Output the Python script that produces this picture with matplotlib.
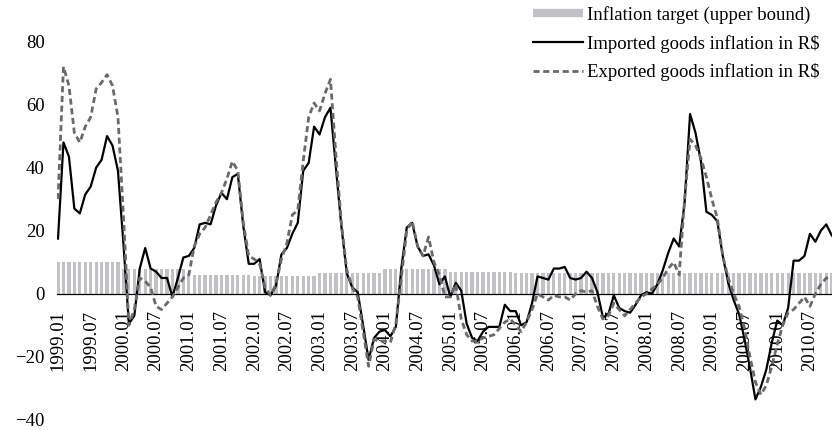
import matplotlib
matplotlib.use('Agg')
import matplotlib.pyplot as plt
from matplotlib.lines import Line2D

plt.rcParams['font.family'] = ['Liberation Serif', 'DejaVu Serif']

# monthly observations, 1999.01 .. 2010.11
years = list(range(1999, 2011))
months = [f'{y}.{m:02d}' for y in years for m in range(1, 13)][:143]

imported = [17.5, 48, 43.5, 27, 25.5, 31.5, 34, 40, 42.5, 50, 47, 39,
            16, -9.5, -7, 8, 14.5, 8, 7, 5, 5, -1, 5, 11.5,
            12, 14.5, 22, 22.5, 22, 28, 32, 30, 37, 38, 21.5, 9.5,
            9.5, 11, 0.5, -0.5, 2.5, 12.5, 14.5, 19, 22.5, 39, 41.5, 53,
            50.5, 56, 59, 40, 21.5, 6.5, 2, 0.5, -10, -21, -14, -12,
            -11.5, -13.5, -10.5, 8, 21, 22.5, 15, 12, 12.5, 9, 3, 5.5,
            -1, 3.5, 1, -9.5, -14, -15, -12, -10.5, -10.5, -10.5, -3.5, -5.5,
            -5.5, -10, -9, -3, 5.5, 5, 4.5, 8, 8, 8.5, 5, 4.5,
            5, 7, 5, 0.5, -7.5, -6.5, -0.5, -4.5, -5.5, -6, -3.5, -0.5,
            0.5, 0, 3, 7.5, 13, 17.5, 15, 29, 57, 51, 42, 26,
            25, 23, 12, 3.5, -2, -6.5, -14.5, -23.5, -33.5, -29.5, -24, -15.5,
            -8.5, -10, -4.5, 10.5, 10.5, 12, 19, 16.5, 20, 22, 18.5]

exported = [30, 72, 66, 51, 48, 53, 56, 65, 67, 69.5, 66, 56,
            25, -10, -5, 5, 4, 2, -4, -5, -3, -1, 2, 5,
            6, 15, 19, 21, 25, 29, 32, 36.5, 42, 39, 22.5, 12,
            11, 9.5, 2, -0.5, 3, 11, 16, 25, 26.5, 42, 56, 60.5,
            58, 63.5, 68, 44, 22.5, 7.5, 2, -1, -12, -23, -14.5, -15,
            -15, -15.5, -9.5, 5, 20, 23, 15, 12, 18, 10, 6, -1,
            -1, 3, -8, -13, -15, -15, -14, -13.5, -13, -11, -9, -8,
            -10, -12, -9, -5, 0, -1, -2, -0.5, -1, -1, -2, 0,
            1, 0.5, 1, -4, -8, -7, -3, -5, -7, -5, -3, -1,
            0, 1.5, 3, 5, 8, 10, 6, 30, 49, 47, 43, 37,
            30, 24, 12, 5, 0, -4, -11, -20, -28, -32, -29, -23,
            -16, -10, -6, -5, -3, -1, -4, 0, 3, 5, 5]

# upper bound of the inflation target, one value per year
target_by_year = [10, 8, 6, 5.5, 6.5, 8, 7, 6.5, 6.5, 6.5, 6.5, 6.5]
target = [target_by_year[k // 12] for k in range(len(months))]

BAR_COLOR = '#c2c2c6'
DASH_COLOR = '#6a6a6a'


def plot_inflation():
    fig = plt.figure(figsize=(8.32, 4.30), dpi=100)
    ax = fig.add_axes([0.0681, 0.0235, 0.9319, 0.8800])
    x = list(range(len(months)))

    ax.bar(x, target, width=0.6, color=BAR_COLOR, zorder=1)
    ax.plot(x, imported, color='black', lw=1.6, zorder=3)
    ax.plot(x, exported, color=DASH_COLOR, lw=2.0, dashes=(2.2, 1.3), zorder=4)

    # zero line doubles as the category axis
    for side in ['top', 'right', 'left']:
        ax.spines[side].set_visible(False)
    ax.spines['bottom'].set_position(('data', 0))
    ax.spines['bottom'].set_linewidth(0.9)
    ax.spines['bottom'].set_zorder(2.5)

    ax.set_xlim(-0.25, 142.05)
    ax.set_ylim(-40, 80)
    ax.set_yticks(range(-40, 81, 20))
    ax.set_xticks(x[::6])
    ax.set_xticklabels(months[::6])
    ax.tick_params(axis='x', length=0, pad=12, labelsize=13.5, labelrotation=90)
    ax.tick_params(axis='y', length=0, pad=8.5, labelsize=13.5)

    handles = [Line2D([], [], color=BAR_COLOR, lw=6, solid_capstyle='butt'),
               Line2D([], [], color='black', lw=1.6),
               Line2D([], [], color=DASH_COLOR, lw=2.0, dashes=(2.2, 1.3))]
    labels = ['Inflation target (upper bound)',
              'Imported goods inflation in R$',
              'Exported goods inflation in R$']
    fig.legend(handles, labels, loc='upper left',
               bbox_to_anchor=(533 / 832, 1 - 6 / 430),
               frameon=False, fontsize=13.5, borderpad=0, borderaxespad=0,
               handlelength=2.67, handletextpad=0.2, labelspacing=0.57)

    fig.savefig('out.png', dpi=100)


if __name__ == '__main__':
    plot_inflation()
